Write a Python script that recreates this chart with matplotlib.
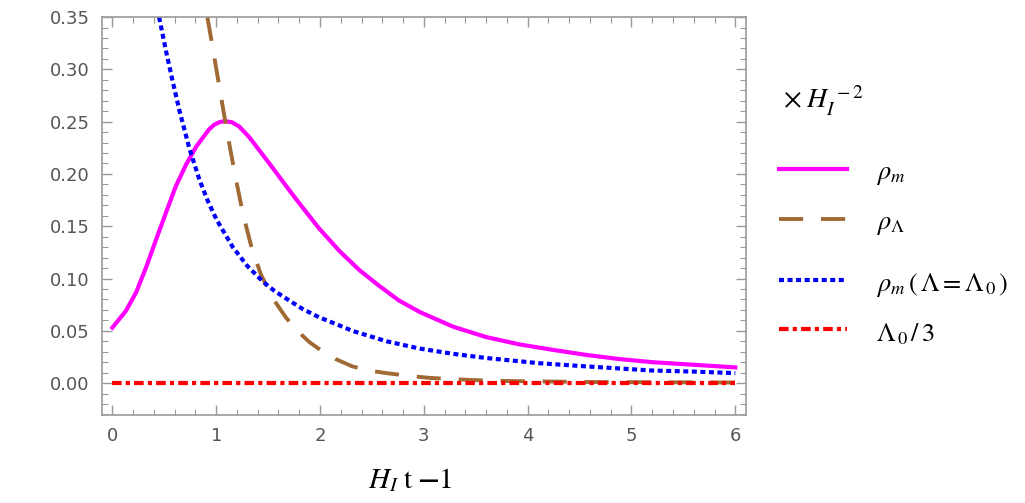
import matplotlib
matplotlib.use("Agg")
import matplotlib.pyplot as plt
import matplotlib.ticker as mticker
from matplotlib.lines import Line2D

# ── Data ──────────────────────────────────────────────────────────────────────
x_rho_m = [0.0, 0.13, 0.23, 0.33, 0.42, 0.52, 0.61, 0.71, 0.81, 0.93, 0.98, 1.03, 1.08,
           1.15, 1.22, 1.32, 1.42, 1.52, 1.61, 1.70, 1.80, 1.99, 2.19, 2.38, 2.57, 2.76, 2.96,
           3.28, 3.6, 3.92, 4.26, 4.56, 4.88, 5.2, 5.6, 6.0]
y_rho_m = [0.053, 0.069, 0.087, 0.112, 0.137, 0.164, 0.188, 0.209, 0.2265, 0.2425, 0.2470, 0.2495, 0.2505,
           0.2495, 0.2455, 0.235, 0.222, 0.209, 0.197, 0.185, 0.172, 0.148, 0.126, 0.108, 0.093, 0.079, 0.068,
           0.054, 0.044, 0.037, 0.0315, 0.027, 0.023, 0.020, 0.0175, 0.015]

x_rho_L = [0.915, 0.95, 1.0, 1.05, 1.10, 1.15, 1.20, 1.26, 1.34, 1.43, 1.545, 1.67,
           1.77, 1.90, 2.0, 2.15, 2.31, 2.47, 2.64, 2.85, 3.05, 3.44, 3.8, 4.2,
           4.6, 5.2, 6.0]
y_rho_L = [0.35, 0.330, 0.301, 0.272, 0.243, 0.216, 0.190, 0.161, 0.130, 0.104, 0.081, 0.063,
           0.051, 0.039, 0.032, 0.023, 0.016, 0.012, 0.0095, 0.007, 0.005, 0.003, 0.002, 0.0015,
           0.001, 0.0008, 0.0005]

x_rho_m0 = [0.45, 0.52, 0.58, 0.645, 0.74, 0.84, 0.92, 1.0, 1.1, 1.16, 1.3, 1.45,
            1.55, 1.64, 1.83, 1.99, 2.19, 2.31, 2.64, 2.96, 3.28, 3.6, 4.11, 4.56,
            5.2, 5.6, 6.0]
y_rho_m0 = [0.350, 0.316, 0.289, 0.261, 0.225, 0.194, 0.174, 0.157, 0.140, 0.130, 0.112, 0.097,
            0.089, 0.083, 0.071, 0.063, 0.055, 0.050, 0.040, 0.033, 0.028, 0.024, 0.019, 0.016,
            0.012, 0.011, 0.0095]

x_lambda0 = [0.0, 6.0]
y_lambda0 = [0.0, 0.0]

labels = [r"$\rho_m$", r"$\rho_{\Lambda}$", r"$\rho_m\,(\,\Lambda = \Lambda_{\,0}\,)$",
          r"$\Lambda_{\,0}\,/\,3$"]
x_ticks = [0, 1, 2, 3, 4, 5, 6]
y_ticks = [0.00, 0.05, 0.10, 0.15, 0.20, 0.25, 0.30, 0.35]

# ── Style ─────────────────────────────────────────────────────────────────────
MAGENTA = "#ff00ff"
BROWN = "#a06a35"
BLUE = "#0000ff"
RED = "#ff0000"
FRAME = "#999999"
TICKTXT = "#555555"

STYLES = [
    dict(color=MAGENTA, lw=3.0),
    dict(color=BROWN, lw=2.8, dashes=[6.2, 4.6]),
    dict(color=BLUE, lw=3.0, dashes=[1.2, 0.85]),
    dict(color=RED, lw=3.0, dashes=[2.3, 1.0, 1.0, 1.0]),
]

plt.rcParams["mathtext.fontset"] = "stix"

fig = plt.figure(figsize=(10.25, 5.03), dpi=100)
ax = fig.add_axes([0.0995, 0.175, 0.628, 0.791])

series = [(x_rho_m, y_rho_m), (x_rho_L, y_rho_L), (x_rho_m0, y_rho_m0), (x_lambda0, y_lambda0)]
for (xs, ys), st in zip(series, STYLES):
    ax.plot(xs, ys, solid_joinstyle="round", dash_joinstyle="round", **st)

ax.set_xlim(-0.1, 6.1)
ax.set_ylim(-0.0305, 0.35)

ax.set_xticks(x_ticks)
ax.set_yticks(y_ticks)
ax.xaxis.set_major_formatter(mticker.FuncFormatter(lambda v, p: f"{v:g}"))
ax.yaxis.set_major_formatter(mticker.FuncFormatter(lambda v, p: f"{v:.2f}"))
ax.xaxis.set_minor_locator(mticker.MultipleLocator(0.2))
ax.yaxis.set_minor_locator(mticker.MultipleLocator(0.01))
ax.tick_params(which="both", direction="in", top=True, right=True, color=FRAME)
ax.tick_params(which="major", length=7, width=1, labelsize=13, labelcolor=TICKTXT, pad=9)
ax.tick_params(which="minor", length=4, width=0.8)
ax.spines[:].set_color(FRAME)
ax.spines[:].set_linewidth(1.2)

fig.text(0.40, 0.045, r"$H_I\;\mathrm{t}\;\mathbf{-}1$", fontsize=21, ha="center", va="center")
fig.text(0.764, 0.80, r"$\times\;H_I^{\;-2}$", fontsize=20, ha="left", va="center")

# ── Legend (drawn manually to mimic Mathematica placement) ───────────────────
leg_y = [0.664, 0.565, 0.443, 0.346]
for yy, st, lab in zip(leg_y, STYLES, labels):
    fig.add_artist(Line2D([0.760, 0.826], [yy, yy], transform=fig.transFigure, **st))
    fig.text(0.855, yy - 0.01, lab, fontsize=19, ha="left", va="center")

fig.savefig("out.png", dpi=100)
